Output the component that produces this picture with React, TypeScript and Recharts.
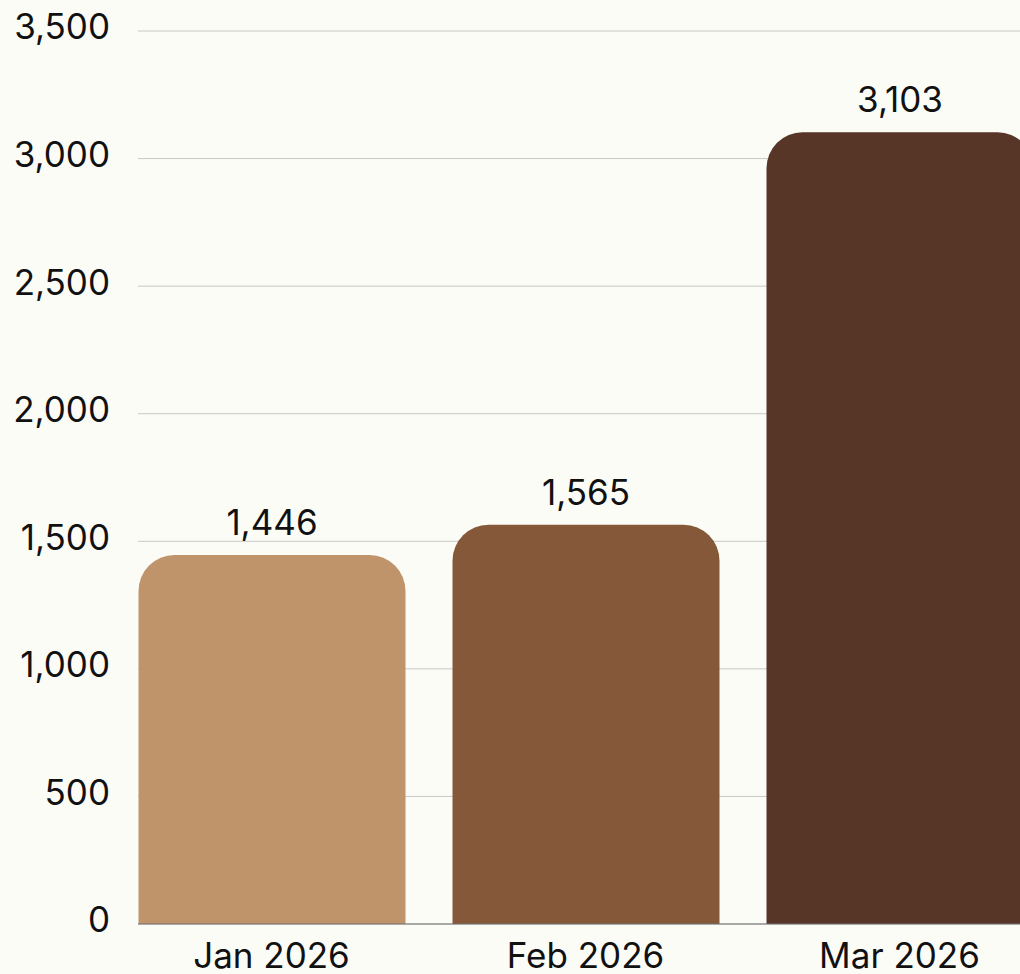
import { BarChart, Bar, XAxis, YAxis, CartesianGrid, Cell, LabelList } from 'recharts';

const months = ['Jan 2026', 'Feb 2026', 'Mar 2026'];
const totals = [1446, 1565, 3103];
const barColors = ['#bf946b', '#845838', '#573628'];
const yTicks = [0, 500, 1000, 1500, 2000, 2500, 3000, 3500];

const data = months.map((month, i) => ({ month, total: totals[i] }));

const fmt = (v: number) => v.toLocaleString('en-US');
const FONT = 'Inter, "Noto Sans", sans-serif';

export default function App() {
  return (
    <div
      style={{
        position: 'fixed',
        left: 0,
        top: 0,
        width: 1020,
        height: 974,
        overflow: 'hidden',
        background: '#fcfcf7',
        fontFamily: FONT,
      }}
    >
      <BarChart
        width={1020}
        height={990}
        data={data}
        margin={{ top: 31, right: 0, bottom: 0, left: 0 }}
        barSize={267}
      >
        <CartesianGrid horizontal vertical={false} stroke="#c8c8c8" />
        <XAxis
          dataKey="month"
          height={66}
          padding={{ left: -23.5, right: -36.5 }}
          axisLine={{ stroke: '#707070' }}
          tickLine={false}
          tickMargin={13}
          tick={{ fill: '#111', fontSize: 35, fontFamily: FONT }}
        />
        <YAxis
          width={138}
          domain={[0, 3500]}
          ticks={yTicks}
          axisLine={false}
          tickLine={false}
          tickMargin={22}
          tickFormatter={fmt}
          tick={{ fill: '#111', fontSize: 35, fontFamily: FONT, dy: -4 }}
        />
        <Bar dataKey="total" radius={[36, 36, 0, 0]} isAnimationActive={false}>
          {data.map((d, i) => (
            <Cell key={d.month} fill={barColors[i]} />
          ))}
          <LabelList
            dataKey="total"
            position="top"
            offset={20}
            formatter={(v: any) => fmt(Number(v))}
            style={{ fill: '#111', fontSize: 35, fontFamily: FONT }}
          />
        </Bar>
      </BarChart>
    </div>
  );
}
